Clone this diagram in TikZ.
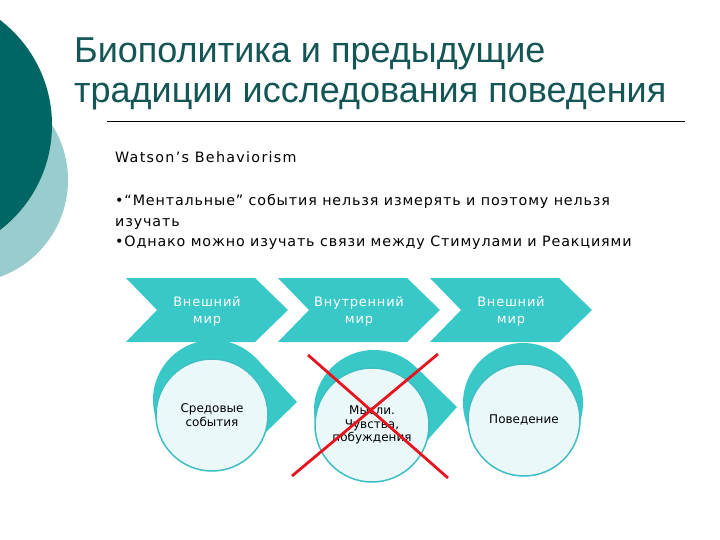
\documentclass[tikz,border=0pt]{standalone}
\usepackage{fontspec}
\setmainfont{DejaVu Sans}
\newfontfamily\titlefont{Liberation Sans}
\newfontfamily\chevfont{DejaVu Sans}[LetterSpace=6]
\newfontfamily\bodyfont{DejaVu Sans}[LetterSpace=6]
\newfontfamily\headfont{DejaVu Sans}[LetterSpace=9]
\definecolor{darkteal}{RGB}{0,102,99}
\definecolor{paleteal}{RGB}{153,204,204}
\definecolor{titlecol}{RGB}{20,85,85}
\definecolor{chevteal}{RGB}{56,200,200}
\definecolor{circfill}{RGB}{234,248,250}
\definecolor{circline}{RGB}{60,190,195}
\definecolor{crossred}{RGB}{230,20,30}
\tikzset{
  chevtext/.style={text=white, font=\chevfont\fontsize{13}{17}\selectfont, align=center, inner sep=0pt},
  lightcirc/.style={circle, fill=circfill, draw=circline, line width=1.5pt, inner sep=0pt, align=center, font=\fontsize{12}{13.5}\selectfont, text=black},
  crossline/.style={draw=crossred, line width=2.8pt},
}
\begin{document}
\begin{tikzpicture}[x=1pt,y=-1pt]
\useasboundingbox (0,0) rectangle (720,540);
\fill[white] (0,0) rectangle (720,540);
% left decoration
\fill[paleteal] (-35,180) circle (103);
\fill[darkteal] (-80,125) circle (132);
% title
\node[anchor=base west, inner sep=0pt, align=left, text=titlecol, font=\titlefont\fontsize{36}{40}\selectfont] (title) at (74,103) {Биополитика и предыдущие\\традиции исследования поведения};
\coordinate (ruleL) at (107,121);
\coordinate (ruleR) at (685,121);
\draw[black, line width=0.8pt] (ruleL) -- (ruleR);
% body text
\node[anchor=base west, inner sep=0pt, font=\headfont\fontsize{14.3}{20}\selectfont] (watson) at (115,163) {Watson’s Behaviorism};
\node[anchor=base west, inner sep=0pt, align=left, font=\bodyfont\fontsize{14.3}{20.5}\selectfont] (bullets) at (115,247) {•“Ментальные” события нельзя измерять и поэтому нельзя\\изучать\\•Однако можно изучать связи между Стимулами и Реакциями};
% chevrons
\foreach \i/\xl in {1/126, 2/278, 3/430} {
  \fill[chevteal] (\xl,278) -- ({\xl+129},278) -- ({\xl+162},310) -- ({\xl+129},342) -- (\xl,342) -- ({\xl+31},310) -- cycle;
}
\node[chevtext] (chev1) at (207,311) {Внешний\\мир};
\node[chevtext] (chev2) at (359,311) {Внутренний\\мир};
\node[chevtext] (chev3) at (511,311) {Внешний\\мир};
% teal drop shapes
\fill[chevteal] (213,400) circle (60);
\fill[chevteal] (213,400) -- ([shift={(213,400)}]-44:60) -- (297,402) -- ([shift={(213,400)}]44:60) -- cycle;
\fill[chevteal] (374,410) circle (60);
\fill[chevteal] (374,410) -- ([shift={(374,410)}]-44:60) -- (457,407) -- ([shift={(374,410)}]44:60) -- cycle;
\fill[chevteal] (523,403) circle (60);
% light circles
\node[lightcirc, minimum size=112pt] (c1) at (212,415) {Средовые\\события};
\node[lightcirc, minimum size=114pt] (c2) at (372,425) {Мысли.\\Чувства,\\побуждения};
\node[lightcirc, minimum size=112pt] (c3) at (524,420) {Поведение};
% red cross
\coordinate (xa1) at (308,355);
\coordinate (xa2) at (448,478);
\coordinate (xb1) at (438,354);
\coordinate (xb2) at (292,476);
\draw[crossline] (xa1) -- (xa2);
\draw[crossline] (xb1) -- (xb2);
\end{tikzpicture}
\end{document}
